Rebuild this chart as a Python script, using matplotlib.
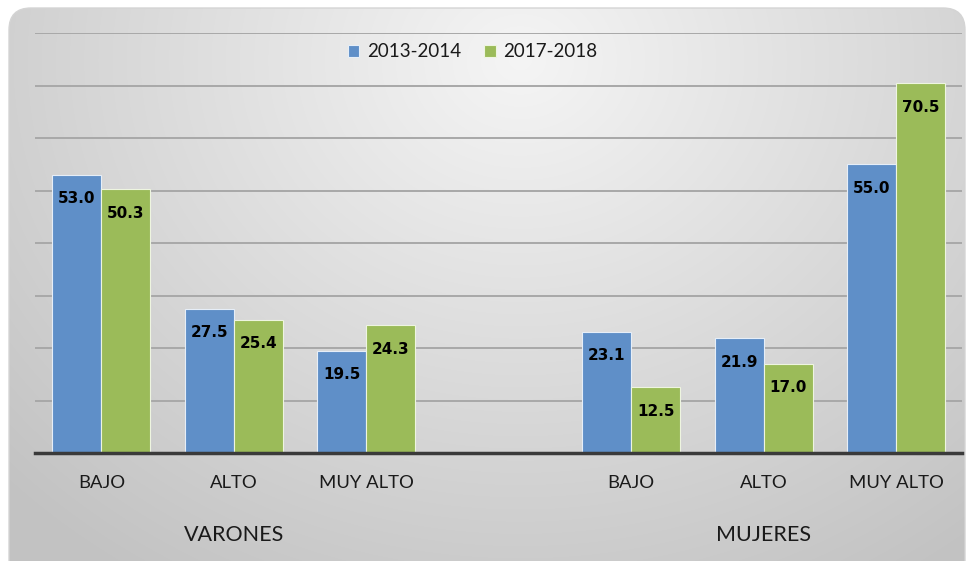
import matplotlib
matplotlib.use("Agg")
import matplotlib.pyplot as plt
from matplotlib.patches import FancyBboxPatch
import numpy as np

# niveles por grupo, con un hueco entre varones y mujeres
niveles = ["BAJO", "ALTO", "MUY ALTO", "", "BAJO", "ALTO", "MUY ALTO"]
grupos = ["VARONES", "MUJERES"]
series = ["2013-2014", "2017-2018"]
v_2013 = [53.0, 27.5, 19.5, np.nan, 23.1, 21.9, 55.0]
v_2017 = [50.3, 25.4, 24.3, np.nan, 12.5, 17.0, 70.5]

azul = "#5f8fc8"
verde = "#9bbb59"

fig = plt.figure(figsize=(9.76, 5.61), dpi=100)

# fondo gris degradado con esquinas redondeadas
bg = fig.add_axes([0, 0, 1, 1], zorder=0)
bg.set_xlim(0, 976)
bg.set_ylim(561, 0)
bg.axis("off")
yy, xx = np.mgrid[0:561, 0:976]
r = np.sqrt(((xx - 520) / 650.0) ** 2 + ((yy - 60) / 560.0) ** 2)
luz = 0.96 - 0.18 * np.clip(r, 0, 1.1)
rgb = np.dstack([luz, luz, luz])
img = bg.imshow(rgb, extent=[0, 976, 561, 0], aspect="auto", interpolation="bilinear")
caja = FancyBboxPatch((9, 8), 956, 575, boxstyle="round,pad=0,rounding_size=22",
                      facecolor="none", edgecolor="#d4d4d4", linewidth=1.0)
bg.add_patch(caja)
img.set_clip_path(caja)

ax = fig.add_axes([0.036, 0.1925, 0.95, 0.7485], zorder=1)
ax.patch.set_alpha(0)

x = np.arange(len(niveles))
w = 0.37
b1 = ax.bar(x - w / 2, v_2013, w, color=azul, edgecolor="#e6eef8", linewidth=0.8,
            label=series[0], zorder=3)
b2 = ax.bar(x + w / 2, v_2017, w, color=verde, edgecolor="#eef5e0", linewidth=0.8,
            label=series[1], zorder=3)

for xs, vals in [(x - w / 2, v_2013), (x + w / 2, v_2017)]:
    for xi, v in zip(xs, vals):
        if np.isnan(v):
            continue
        ax.text(xi, v - 4.6, f"{v:.1f}", ha="center", va="center", fontsize=11,
                fontweight="bold", color="black", zorder=4)

ax.set_xlim(-0.5, 6.5)
ax.set_ylim(0, 80)
ax.set_yticks(np.arange(0, 81, 10))
ax.yaxis.grid(True, color="#a8a8a8", linewidth=1.4, zorder=1)
ax.set_axisbelow(True)
ax.tick_params(axis="y", left=False, labelleft=False)
ax.tick_params(axis="x", bottom=False, labelbottom=False)
for s in ["top", "right", "left"]:
    ax.spines[s].set_visible(False)
ax.spines["bottom"].set_color("#3a3a3a")
ax.spines["bottom"].set_linewidth(2.5)
ax.spines["bottom"].set_zorder(5)

for xi, n in zip(x, niveles):
    ax.text(xi, -5.7, n, ha="center", va="center", fontsize=13.3,
            family="Lato", color="#1a1a1a")
ax.text(1, -15.6, grupos[0], ha="center", va="center", fontsize=15.5,
        family="Lato", color="#1a1a1a")
ax.text(5, -15.6, grupos[1], ha="center", va="center", fontsize=15.5,
        family="Lato", color="#1a1a1a")

leg = ax.legend(loc="center", bbox_to_anchor=(0.472, 0.955), ncol=2, frameon=False,
                handlelength=0.6, handleheight=0.6, handletextpad=0.4,
                columnspacing=1.25, prop={"family": "Lato", "size": 13.5})
for t in leg.get_texts():
    t.set_color("#1a1a1a")

fig.savefig("out.png", dpi=100)
